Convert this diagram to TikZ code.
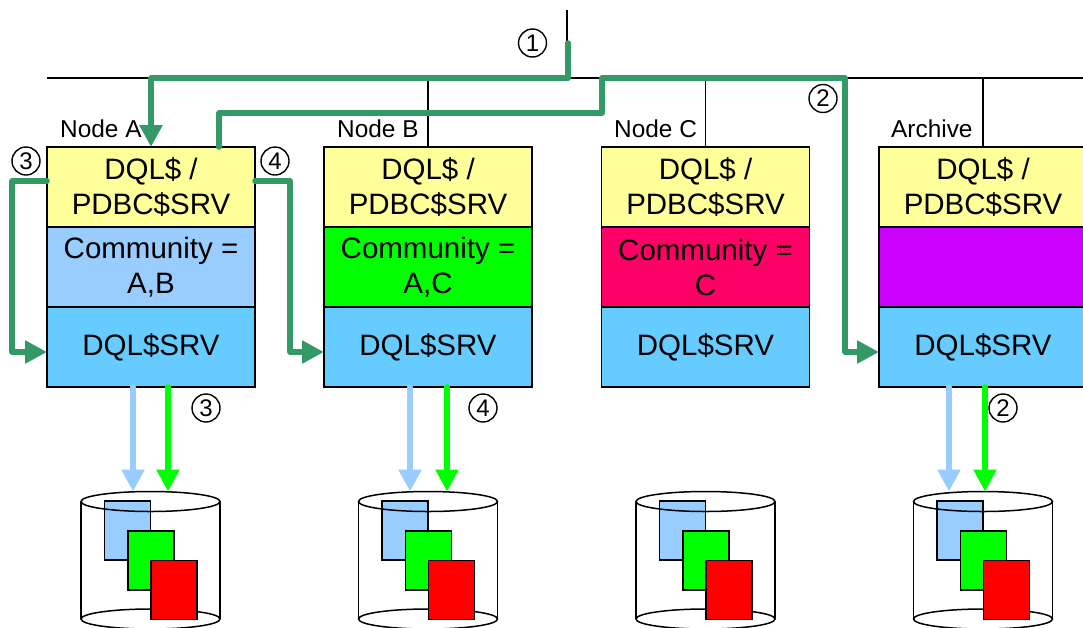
\documentclass[tikz,border=0pt]{standalone}
\usepackage{fontspec}
\setmainfont{Liberation Sans}
\usetikzlibrary{arrows.meta,positioning,shapes.geometric}
\definecolor{routegreen}{HTML}{339966}
\definecolor{paleyellow}{HTML}{FFFF99}
\definecolor{paleblue}{HTML}{99CCFF}
\definecolor{skyblue}{HTML}{66CCFF}
\definecolor{rosered}{HTML}{FF0066}
\definecolor{violet}{HTML}{CC00FF}
\tikzset{
  box/.style={draw, line width=1.8pt, minimum width=208pt, minimum height=80pt,
    inner sep=0pt, outer sep=0pt, align=center, font=\fontsize{29.5}{35}\selectfont},
  hostlabel/.style={anchor=west, inner sep=0pt, font=\fontsize{24.4}{28}\selectfont},
  num/.style={draw, circle, line width=1.4pt, minimum size=28pt, inner sep=0pt,
    font=\fontsize{24}{26}\selectfont},
  wire/.style={line width=1.2pt},
  drumside/.style={line width=1.5pt},
  route/.style={routegreen, line width=5.5pt, line join=round, line cap=round},
  tip/.style={-{Triangle[width=22pt,length=22pt]}},
  drumtop/.style={draw, ellipse, line width=1.5pt, minimum width=139pt, minimum height=20pt,
    inner sep=0pt, outer sep=0pt},
  doc/.style={draw, line width=1.5pt, minimum width=46pt, minimum height=59pt, inner sep=0pt}
}
\begin{document}
\begin{tikzpicture}[x=1pt,y=-1pt]
  \path[use as bounding box,clip] (0,0) rectangle (1083,627);
  % Bus
  \coordinate (busL) at (47,78);
  \coordinate (busR) at (1083,78);
  \coordinate (top) at (567,10);
  \draw[wire] (busL) -- (busR);
  \draw[wire] (top) -- (top |- busL);

  % Node A
  \node[box, fill=paleyellow] (dqlA) at (151,187) {DQL\$ /\\PDBC\$SRV};
  \node[box, fill=paleblue, below=0pt of dqlA] (comA) {Community =\\A,B};
  \node[box, fill=skyblue, below=0pt of comA] (srvA) {DQL\$SRV};
  \node[hostlabel] (nameA) at (60,129) {Node A};
  % Node B
  \node[box, fill=paleyellow] (dqlB) at (428,187) {DQL\$ /\\PDBC\$SRV};
  \node[box, fill=green, below=0pt of dqlB] (comB) {Community =\\A,C};
  \node[box, fill=skyblue, below=0pt of comB] (srvB) {DQL\$SRV};
  \node[hostlabel] (nameB) at (337,129) {Node B};
  % Node C
  \node[box, fill=paleyellow] (dqlC) at (705.5,187) {DQL\$ /\\PDBC\$SRV};
  \node[box, fill=rosered, below=0pt of dqlC] (comC) {Community =\\C};
  \node[box, fill=skyblue, below=0pt of comC] (srvC) {DQL\$SRV};
  \node[hostlabel] (nameC) at (614,129) {Node C};
  % Archive
  \node[box, fill=paleyellow] (dqlD) at (983,187) {DQL\$ /\\PDBC\$SRV};
  \node[box, fill=violet, below=0pt of dqlD] (comD) {};
  \node[box, fill=skyblue, below=0pt of comD] (srvD) {DQL\$SRV};
  \node[hostlabel] (nameD) at (891,129) {Archive};

  % Drops from the bus
  \draw[wire] (dqlB.north |- busL) -- (dqlB.north);
  \draw[wire] (dqlC.north |- busL) -- (dqlC.north);
  \draw[wire] (dqlD.north |- busL) -- (dqlD.north);

  % Drums
  \node[drumtop] (botA) at (150.5,619) {};
  \node[doc, fill=paleblue] (blueA) at (127.5,530.5) {};
  \node[doc, fill=green] (greenA) at (151,560.5) {};
  \node[doc, fill=red] (redA) at (174,590) {};
  \node[drumtop] (topA) at (150.5,501.5) {};
  \draw[drumside] (topA.west) -- (botA.west) (topA.east) -- (botA.east);

  \node[drumtop] (botB) at (428,619) {};
  \node[doc, fill=paleblue] (blueB) at (405,530.5) {};
  \node[doc, fill=green] (greenB) at (428.5,560.5) {};
  \node[doc, fill=red] (redB) at (451.5,590) {};
  \node[drumtop] (topB) at (428,501.5) {};
  \draw[drumside] (topB.west) -- (botB.west) (topB.east) -- (botB.east);

  \node[drumtop] (botC) at (705.5,619) {};
  \node[doc, fill=paleblue] (blueC) at (682.5,530.5) {};
  \node[doc, fill=green] (greenC) at (706,560.5) {};
  \node[doc, fill=red] (redC) at (729,590) {};
  \node[drumtop] (topC) at (705.5,501.5) {};
  \draw[drumside] (topC.west) -- (botC.west) (topC.east) -- (botC.east);

  \node[drumtop] (botD) at (983,619) {};
  \node[doc, fill=paleblue] (blueD) at (960,530.5) {};
  \node[doc, fill=green] (greenD) at (983.5,560.5) {};
  \node[doc, fill=red] (redD) at (1006.5,590) {};
  \node[drumtop] (topD) at (983,501.5) {};
  \draw[drumside] (topD.west) -- (botD.west) (topD.east) -- (botD.east);

  % Writes to the drums
  \draw[route, tip, paleblue] ([xshift=-18pt]srvA.south) -- ([xshift=-18pt]srvA.south |- topA.north);
  \draw[route, tip, green] ([xshift=17pt]srvA.south) -- ([xshift=17pt]srvA.south |- topA.north);
  \draw[route, tip, paleblue] ([xshift=-18pt]srvB.south) -- ([xshift=-18pt]srvB.south |- topB.north);
  \draw[route, tip, green] ([xshift=19pt]srvB.south) -- ([xshift=19pt]srvB.south |- topB.north);
  \draw[route, tip, paleblue] ([xshift=-34pt]srvD.south) -- ([xshift=-34pt]srvD.south |- topD.north);
  \draw[route, tip, green] ([xshift=2pt]srvD.south) -- ([xshift=2pt]srvD.south |- topD.north);

  % Green routes
  \coordinate (feed) at (568,43);
  \coordinate (jog) at (602,113);
  \draw[route, tip] (feed) -- (feed |- busL) -- (dqlA.north |- busL) -- (dqlA.north);
  \draw[route, tip] ([xshift=68pt]dqlA.north) |- (jog) -- (jog |- busL)
    -- (845,78) -- (845,352) -- ([yshift=-5pt]srvD.west);
  \draw[route, tip] ([yshift=6pt]dqlA.west) -- (12,181) -- (12,352) -- ([yshift=-5pt]srvA.west);
  \draw[route, tip] ([yshift=6pt]dqlA.east) -- (290,181) -- (290,352) -- ([yshift=-5pt]srvB.west);

  % Step numbers
  \node[num] (stepa) at (532.5,43) {1};
  \node[num] (stepb) at (823,98.5) {2};
  \node[num] (stepc) at (26,161) {3};
  \node[num] (stepd) at (275,161) {4};
  \node[num] (stepe) at (206,408) {3};
  \node[num] (stepf) at (483,408) {4};
  \node[num] (stepg) at (1003,408) {2};
\end{tikzpicture}
\end{document}
